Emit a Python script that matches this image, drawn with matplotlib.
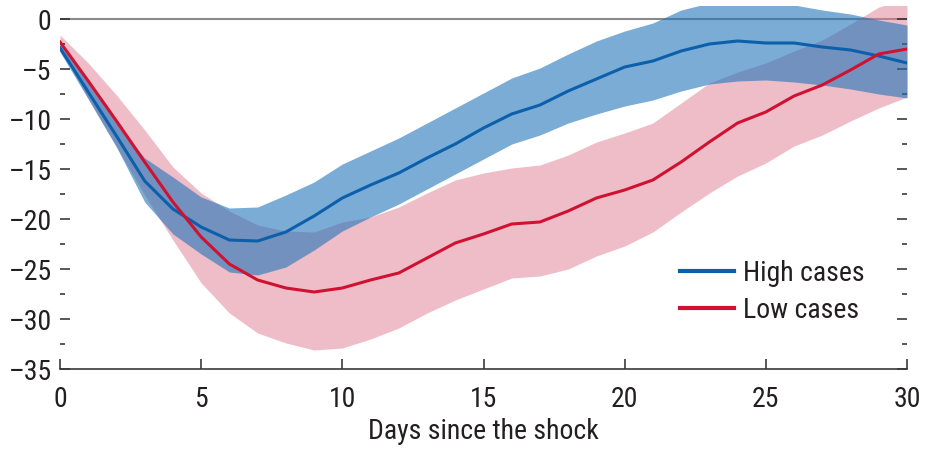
import matplotlib
matplotlib.use("Agg")
import matplotlib.pyplot as plt
from matplotlib.ticker import MultipleLocator

# ── Data ──────────────────────────────────────────────────────────────────────
days = list(range(31))

high_mid = [-2.9, -7.3, -11.7, -16.2, -19.0, -20.8, -22.1, -22.2, -21.3, -19.7,
            -17.9, -16.6, -15.4, -13.9, -12.5, -10.9, -9.5, -8.6, -7.2, -6.0,
            -4.8, -4.2, -3.2, -2.5, -2.2, -2.4, -2.4, -2.8, -3.1, -3.7, -4.4]
high_upper = [-2.5, -6.4, -10.4, -13.9, -15.8, -17.8, -18.9, -18.8, -17.6, -16.3,
              -14.5, -13.2, -11.9, -10.4, -8.9, -7.4, -5.9, -4.9, -3.5, -2.2,
              -1.2, -0.4, 0.9, 1.6, 1.9, 1.8, 1.4, 0.9, 0.5, -0.1, -0.6]
high_lower = [-3.3, -8.0, -12.8, -18.3, -21.5, -23.5, -25.3, -25.6, -24.8, -23.1,
              -21.2, -19.8, -18.5, -17.0, -15.5, -14.0, -12.5, -11.6, -10.4, -9.5,
              -8.7, -8.1, -7.2, -6.5, -6.2, -6.1, -6.3, -6.6, -7.0, -7.5, -7.9]

low_mid = [-2.3, -6.2, -10.2, -14.3, -18.3, -21.8, -24.5, -26.1, -26.9, -27.3,
           -26.9, -26.1, -25.4, -23.9, -22.4, -21.5, -20.5, -20.3, -19.2, -17.9,
           -17.1, -16.1, -14.3, -12.3, -10.4, -9.3, -7.7, -6.6, -5.1, -3.5, -3.0]
low_upper = [-1.6, -4.4, -7.6, -11.1, -14.8, -17.4, -19.2, -20.6, -21.2, -21.3,
             -20.3, -19.8, -18.8, -17.4, -16.1, -15.4, -14.9, -14.6, -13.6, -12.3,
             -11.4, -10.4, -8.4, -6.4, -5.3, -4.4, -3.2, -2.1, -0.5, 1.2, 2.0]
low_lower = [-2.9, -8.0, -12.8, -17.6, -22.1, -26.4, -29.4, -31.4, -32.4, -33.1,
             -32.9, -32.0, -30.9, -29.4, -28.1, -27.0, -25.9, -25.7, -25.0, -23.7,
             -22.7, -21.3, -19.3, -17.4, -15.7, -14.4, -12.7, -11.6, -10.2, -8.9, -7.8]

series_labels = ["High cases", "Low cases"]
x_ticks = [0, 5, 10, 15, 20, 25, 30]
y_ticks = [-35, -30, -25, -20, -15, -10, -5, 0]

# ── Style ─────────────────────────────────────────────────────────────────────
# condensed face first; anything missing just falls through to the next family
FONT = ["Roboto Condensed", "Archivo Narrow", "Liberation Sans Narrow",
        "Liberation Sans", "DejaVu Sans"]
plt.rcParams["font.family"] = FONT
FS = 20
BLUE_LINE = "#0b5fab"
BLUE_BAND = "#2175b9"
RED_LINE = "#cf1232"
PINK_BAND = "#df7d91"
TXT = "#231f20"

W, H = 925, 453
fig = plt.figure(figsize=(W / 100, H / 100), dpi=100, facecolor="white")
ax = fig.add_axes([60 / W, 1 - 369 / H, 847 / W, 363 / H])

ax.axhline(0, color="#8a8a8a", linewidth=1.5, zorder=0.5)

ax.fill_between(days, low_lower, low_upper, color=PINK_BAND, alpha=0.5,
                linewidth=0, zorder=1)
ax.fill_between(days, high_lower, high_upper, color=BLUE_BAND, alpha=0.6,
                linewidth=0, zorder=2)
ax.plot(days, high_mid, color=BLUE_LINE, linewidth=2.2, label=series_labels[0], zorder=4)
ax.plot(days, low_mid, color=RED_LINE, linewidth=2.2, label=series_labels[1], zorder=5)

ax.set_xlim(0, 30)
ax.set_ylim(-35, 1.3)
ax.set_xticks(x_ticks)
ax.set_yticks(y_ticks)
ax.yaxis.set_minor_locator(MultipleLocator(2.5))
ax.set_yticklabels([f"\u2013{abs(v)}" if v < 0 else str(v) for v in y_ticks])

for side in ("top", "left", "right"):
    ax.spines[side].set_visible(False)
ax.spines["bottom"].set_color("#3a3a3a")
ax.spines["bottom"].set_linewidth(1.2)

ax.tick_params(axis="y", which="both", direction="in", left=True, right=True,
               labelleft=True, labelright=False, color="#2a2a2a", width=1.1)
ax.tick_params(axis="y", which="major", length=7, pad=6, labelsize=FS, labelcolor=TXT)
ax.tick_params(axis="y", which="minor", length=3.5)
ax.tick_params(axis="x", direction="in", length=7, width=1.1, color="#2a2a2a",
               pad=12, labelsize=FS, labelcolor=TXT)

ax.set_xlabel("Days since the shock", fontsize=FS, color=TXT, labelpad=4)

leg = ax.legend(loc="upper left", bbox_to_anchor=(0.732, 0.30), frameon=False,
                fontsize=FS, borderpad=0, borderaxespad=0, handlelength=1.93,
                handletextpad=0.33, labelspacing=0.35, labelcolor=TXT)
for line in leg.get_lines():
    line.set_linewidth(3.0)

fig.savefig("out.png", dpi=100, facecolor="white")
